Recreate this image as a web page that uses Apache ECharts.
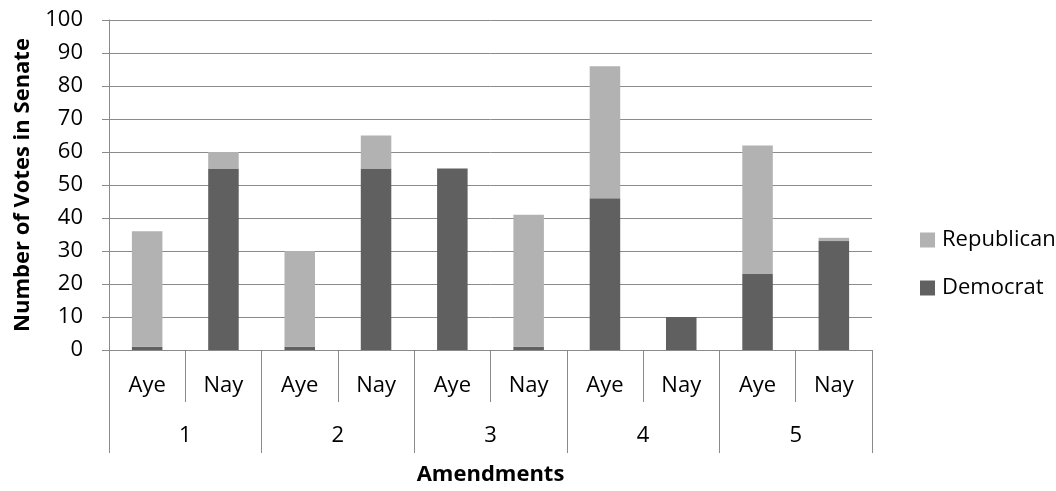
<!DOCTYPE html>
<html>
<head>
<meta charset="utf-8">
<script src="https://cdn.jsdelivr.net/npm/echarts@6/dist/echarts.min.js"></script>
<style>
  html, body { margin: 0; padding: 0; background: #fff; }
  #chart { width: 1056px; height: 491px; }
</style>
</head>
<body>
<div id="chart"></div>
<script>
// Senate votes on five amendments, split by party and by Aye / Nay
const voteLabels = ['Aye', 'Nay', 'Aye', 'Nay', 'Aye', 'Nay', 'Aye', 'Nay', 'Aye', 'Nay'];
const amendments = ['1', '2', '3', '4', '5'];
const democrat   = [1, 55, 1, 55, 55, 1, 46, 10, 23, 33];
const republican = [35, 5, 29, 10, 0, 40, 40, 0, 39, 1];
const yTicks = { min: 0, max: 100, interval: 10 };

const FONT = '"Open Sans", Lato, sans-serif';
const LINE = '#8a8a8a';
const TEXT = '#000';
const FS = 22;

const chart = echarts.init(document.getElementById('chart'), null, { renderer: 'canvas' });

chart.setOption({
  animation: false,
  textStyle: { fontFamily: FONT },
  grid: { left: 109, right: 184, top: 20, bottom: 136, containLabel: false },
  legend: {
    orient: 'vertical',
    left: 915,
    top: 224,
    itemWidth: 15,
    itemHeight: 15,
    itemGap: 26,
    icon: 'rect',
    data: ['Republican', 'Democrat'],
    textStyle: { fontFamily: FONT, fontSize: FS, color: TEXT, padding: [0, 0, 0, 2] }
  },
  xAxis: [
    {
      // lower level: Aye / Nay per amendment
      type: 'category',
      data: voteLabels,
      position: 'bottom',
      axisLine: { show: true, lineStyle: { color: LINE, width: 1 } },
      axisTick: { show: true, interval: 0, length: 52, lineStyle: { color: LINE } },
      axisLabel: { interval: 0, margin: 25, fontSize: FS, color: TEXT, fontFamily: FONT },
      splitLine: { show: false }
    },
    {
      // upper level: amendment number, spanning two bars each
      type: 'category',
      data: amendments,
      position: 'bottom',
      axisLine: { show: false },
      axisTick: { show: true, interval: 0, length: 103, lineStyle: { color: LINE } },
      axisLabel: { interval: 0, margin: 75, fontSize: FS, color: TEXT, fontFamily: FONT },
      splitLine: { show: false },
      name: 'Amendments',
      nameLocation: 'middle',
      nameGap: 114,
      nameTextStyle: { fontSize: FS, fontWeight: 'bold', color: TEXT, fontFamily: FONT }
    }
  ],
  yAxis: {
    type: 'value',
    min: yTicks.min,
    max: yTicks.max,
    interval: yTicks.interval,
    axisLine: { show: true, lineStyle: { color: LINE } },
    axisTick: { show: true, length: 7, lineStyle: { color: LINE } },
    axisLabel: { margin: 26, fontSize: FS, color: TEXT, fontFamily: FONT },
    splitLine: { show: true, lineStyle: { color: LINE, width: 1 } },
    name: 'Number of Votes in Senate',
    nameLocation: 'middle',
    nameGap: 75,
    nameRotate: 90,
    nameTextStyle: { fontSize: FS, fontWeight: 'bold', color: TEXT, fontFamily: FONT }
  },
  series: [
    {
      name: 'Democrat',
      type: 'bar',
      stack: 'votes',
      xAxisIndex: 0,
      barWidth: '40%',
      data: democrat,
      itemStyle: { color: '#606060' }
    },
    {
      name: 'Republican',
      type: 'bar',
      stack: 'votes',
      xAxisIndex: 0,
      barWidth: '40%',
      data: republican,
      itemStyle: { color: '#b2b2b2' }
    }
  ]
});
</script>
</body>
</html>
